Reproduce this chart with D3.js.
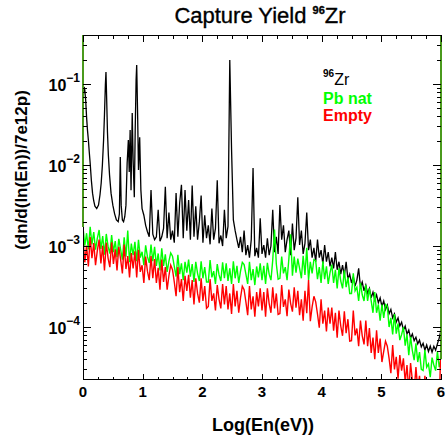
<!DOCTYPE html>
<html><head><meta charset="utf-8">
<script src="https://cdn.jsdelivr.net/npm/d3@7/dist/d3.min.js"></script>
<style>body{margin:0;background:#fff}svg{display:block}</style>
</head><body>
<svg id="c" width="446" height="444"></svg>
<script>
// ---------- data ----------
const xTickValues = [0, 1, 2, 3, 4, 5, 6];
const yDecadeExps = [-4, -3, -2, -1];
const binStep = 0.03;
const logE = d3.range(0, 201).map(i => +(i * binStep).toFixed(2)); // bin centres, Log10(En/eV)

const pbNat = [
1.72e-3,1.01e-3,1.44e-3,0.91e-3,1.73e-3,1.05e-3,1.49e-3,0.90e-3,1.24e-3,1.58e-3,
0.92e-3,1.33e-3,0.78e-3,1.41e-3,0.99e-3,0.81e-3,1.37e-3,0.84e-3,1.15e-3,0.73e-3,
1.23e-3,0.91e-3,0.68e-3,1.28e-3,0.74e-3,1.55e-3,0.63e-3,1.07e-3,0.77e-3,1.13e-3,
0.65e-3,1.19e-3,0.72e-3,0.85e-3,0.58e-3,1.02e-3,0.74e-3,0.62e-3,1.04e-3,0.65e-3,
0.98e-3,0.57e-3,0.81e-3,0.50e-3,0.94e-3,0.57e-3,0.79e-3,0.48e-3,0.65e-3,0.82e-3,
0.75e-3,0.56e-3,0.42e-3,0.78e-3,0.45e-3,0.61e-3,0.38e-3,0.64e-3,0.47e-3,0.68e-3,
0.42e-3,0.60e-3,0.36e-3,0.64e-3,0.46e-3,0.37e-3,0.65e-3,0.40e-3,0.55e-3,0.36e-3,
0.36e-3,0.67e-3,0.41e-3,0.49e-3,0.34e-3,0.60e-3,0.44e-3,0.37e-3,0.63e-3,0.40e-3,
0.61e-3,0.37e-3,0.53e-3,0.34e-3,0.65e-3,0.40e-3,0.57e-3,0.35e-3,0.49e-3,0.63e-3,
0.59e-3,0.45e-3,0.34e-3,0.64e-3,0.38e-3,0.52e-3,0.33e-3,0.56e-3,0.41e-3,0.61e-3,
0.38e-3,0.57e-3,0.34e-3,0.62e-3,0.45e-3,0.38e-3,0.67e-3,1.60e-3,0.60e-3,0.39e-3,
0.40e-3,0.74e-3,0.46e-3,0.55e-3,0.38e-3,0.69e-3,1.40e-3,0.43e-3,0.74e-3,0.47e-3,
0.70e-3,0.53e-3,0.40e-3,0.76e-3,0.44e-3,0.95e-3,0.38e-3,0.64e-3,0.46e-3,0.68e-3,
0.66e-3,0.39e-3,0.55e-3,0.35e-3,0.65e-3,0.39e-3,0.56e-3,0.34e-3,0.47e-3,0.59e-3,
0.35e-3,0.51e-3,0.30e-3,0.53e-3,0.37e-3,0.30e-3,0.50e-3,0.31e-3,0.41e-3,0.26e-3,
0.26e-3,0.46e-3,0.28e-3,0.31e-3,0.21e-3,0.35e-3,0.25e-3,0.21e-3,0.33e-3,0.21e-3,
0.30e-3,0.21e-3,0.15e-3,0.27e-3,0.15e-3,0.19e-3,0.12e-3,0.19e-3,0.13e-3,0.19e-3,
0.18e-3,0.10e-3,0.13e-3,0.081e-3,0.145e-3,0.083e-3,0.11e-3,0.069e-3,0.081e-3,0.10e-3,
0.059e-3,0.081e-3,0.045e-3,0.076e-3,0.051e-3,0.039e-3,0.063e-3,0.037e-3,0.049e-3,0.030e-3,
0.029e-3,0.052e-3,0.032e-3,0.035e-3,0.024e-3,0.042e-3,0.034e-3,0.029e-3,0.050e-3,0.032e-3,
0.040e-3];

const empty = [
1.25e-3,0.63e-3,1.01e-3,0.56e-3,1.29e-3,0.71e-3,1.09e-3,0.58e-3,0.88e-3,1.20e-3,
0.61e-3,1.01e-3,0.50e-3,1.10e-3,0.71e-3,0.55e-3,1.11e-3,0.60e-3,0.91e-3,0.50e-3,
0.98e-3,0.69e-3,0.46e-3,1.04e-3,0.52e-3,0.75e-3,0.41e-3,0.82e-3,0.53e-3,0.86e-3,
0.41e-3,0.90e-3,0.48e-3,0.58e-3,0.35e-3,0.74e-3,0.49e-3,0.38e-3,0.75e-3,0.40e-3,
0.69e-3,0.35e-3,0.54e-3,0.29e-3,0.68e-3,0.36e-3,0.55e-3,0.29e-3,0.43e-3,0.58e-3,
0.51e-3,0.36e-3,0.24e-3,0.55e-3,0.27e-3,0.39e-3,0.21e-3,0.43e-3,0.28e-3,0.44e-3,
0.23e-3,0.38e-3,0.19e-3,0.40e-3,0.26e-3,0.20e-3,0.40e-3,0.21e-3,0.32e-3,0.17e-3,
0.18e-3,0.39e-3,0.21e-3,0.26e-3,0.16e-3,0.33e-3,0.22e-3,0.17e-3,0.34e-3,0.19e-3,
0.32e-3,0.165e-3,0.26e-3,0.145e-3,0.34e-3,0.18e-3,0.28e-3,0.15e-3,0.23e-3,0.32e-3,
0.29e-3,0.205e-3,0.14e-3,0.32e-3,0.165e-3,0.24e-3,0.134e-3,0.27e-3,0.18e-3,0.30e-3,
0.16e-3,0.27e-3,0.134e-3,0.30e-3,0.195e-3,0.15e-3,0.31e-3,0.17e-3,0.26e-3,0.143e-3,
0.147e-3,0.33e-3,0.177e-3,0.22e-3,0.136e-3,0.29e-3,0.195e-3,0.155e-3,0.31e-3,0.173e-3,
0.28e-3,0.14e-3,0.22e-3,0.12e-3,0.28e-3,0.148e-3,0.38e-3,0.118e-3,0.177e-3,0.24e-3,
0.205e-3,0.145e-3,0.098e-3,0.22e-3,0.11e-3,0.16e-3,0.088e-3,0.174e-3,0.11e-3,0.174e-3,
0.09e-3,0.15e-3,0.074e-3,0.16e-3,0.103e-3,0.078e-3,0.156e-3,0.084e-3,0.125e-3,0.067e-3,
0.068e-3,0.16e-3,0.079e-3,0.096e-3,0.058e-3,0.12e-3,0.078e-3,0.061e-3,0.12e-3,0.058e-3,
0.097e-3,0.048e-3,0.074e-3,0.040e-3,0.091e-3,0.048e-3,0.072e-3,0.037e-3,0.050e-3,0.067e-3,
0.058e-3,0.041e-3,0.027e-3,0.060e-3,0.030e-3,0.043e-3,0.023e-3,0.045e-3,0.029e-3,0.041e-3,
0.021e-3,0.034e-3,0.016e-3,0.036e-3,0.022e-3,0.016e-3,0.032e-3,0.017e-3,0.025e-3,0.013e-3,
0.012e-3,0.025e-3,0.013e-3,0.016e-3,0.0095e-3,0.020e-3,0.013e-3,0.010e-3,0.021e-3,0.011e-3,
0.066e-3];

// 96Zr: finely sampled resonance region below Log(En)=1 ...
const zrLowLogE = [0.000,0.010,0.020,0.030,0.045,0.060,0.075,0.090,0.105,0.120,0.140,0.160,0.180,0.200,0.230,0.260,0.285,0.305,0.325,0.345,0.360,0.375,0.385,0.395,0.410,0.425,0.445,0.470,0.500,0.530,0.560,0.590,0.610,0.625,0.640,0.660,0.680,0.700,0.720,0.740,0.760,0.775,0.790,0.805,0.825,0.840,0.860,0.875,0.890,0.900,0.915,0.930,0.950,0.970,0.990];
const zrLowYield = [0.063,0.080,0.092,0.085,0.063,0.039,0.027,0.0204,0.0145,0.0106,0.0065,0.0045,0.0036,0.0031,0.0029,0.0032,0.0043,0.0060,0.0100,0.0204,0.042,0.097,0.141,0.073,0.0255,0.0133,0.0075,0.0045,0.0032,0.0025,0.0021,0.0020,0.0025,0.0126,0.0032,0.0021,0.0020,0.0023,0.0032,0.0106,0.0204,0.0082,0.027,0.0049,0.044,0.0115,0.0040,0.027,0.112,0.172,0.044,0.0087,0.022,0.0049,0.0029];
// ... and on the common bin grid from Log(En)=1.02 to 6
const zrHighYield = [
2.4e-3,1.8e-3,1.5e-3,1.3e-3,4.9e-3,1.4e-3,
1.2e-3,1.3e-3,2.8e-3,1.15e-3,1.3e-3,1.65e-3,5.4e-3,1.25e-3,2.6e-3,1.2e-3,
1.55e-3,1.1e-3,4.5e-3,1.3e-3,3.4e-3,5.7e-3,1.25e-3,4.9e-3,1.55e-3,3.7e-3,
1.2e-3,5.6e-3,1.3e-3,3.1e-3,1.2e-3,2.0e-3,4.2e-3,1.1e-3,2.4e-3,1.25e-3,
1.8e-3,1.05e-3,2.9e-3,1.2e-3,1.65e-3,6.5e-3,1.08e-3,1.35e-3,1.0e-3,2.8e-3,
1.25e-3,1.75e-3,198e-3,15.3e-3,2.1e-3,1.55e-3,1.2e-3,0.95e-3,1.3e-3,0.84e-3,
1.55e-3,0.77e-3,1.03e-3,0.72e-3,1.2e-3,9.2e-3,0.75e-3,0.95e-3,0.72e-3,2.2e-3,
0.8e-3,1.03e-3,0.72e-3,1.25e-3,0.77e-3,1.0e-3,2.8e-3,0.84e-3,1.3e-3,0.8e-3,
3.2e-3,1.2e-3,1.8e-3,0.84e-3,1.2e-3,1.55e-3,0.77e-3,1.9e-3,0.89e-3,1.25e-3,
4.0e-3,1.03e-3,1.55e-3,0.8e-3,1.08e-3,2.6e-3,0.89e-3,1.2e-3,0.72e-3,0.95e-3,
0.64e-3,1.2e-3,0.72e-3,0.89e-3,0.60e-3,1.03e-3,0.64e-3,0.84e-3,0.56e-3,0.72e-3,
0.53e-3,0.84e-3,0.51e-3,0.64e-3,0.45e-3,0.58e-3,0.43e-3,0.64e-3,0.39e-3,0.45e-3,
0.35e-3,0.42e-3,0.32e-3,0.38e-3,0.53e-3,0.31e-3,0.36e-3,0.28e-3,0.33e-3,0.26e-3,
0.30e-3,0.23e-3,0.27e-3,0.216e-3,0.25e-3,0.20e-3,0.23e-3,0.18e-3,0.21e-3,0.165e-3,
0.187e-3,0.146e-3,0.165e-3,0.13e-3,0.146e-3,0.115e-3,0.13e-3,0.103e-3,0.115e-3,0.092e-3,
0.103e-3,0.082e-3,0.092e-3,0.073e-3,0.082e-3,0.068e-3,0.075e-3,0.062e-3,0.069e-3,0.057e-3,
0.063e-3,0.052e-3,0.060e-3,0.050e-3,0.058e-3,0.049e-3,0.058e-3,0.052e-3,0.062e-3,0.073e-3,
0.092e-3];

const legendLabels = ["Zr", "Pb nat", "Empty"];
const seriesColors = ["#000000", "#00ff00", "#ff0000"];

// ---------- chart ----------
const svg = d3.select("#c");
const font = "'Liberation Sans', Arial, Helvetica, sans-serif";
const frame = {left: 83, right: 441, top: 35, bottom: 380};

const x = d3.scaleLinear().domain([0, 6]).range([frame.left, frame.right]);
const y = d3.scaleLog().domain([2.22e-5, 0.403]).range([frame.bottom, frame.top]);

svg.append("defs").append("clipPath").attr("id", "clip")
  .append("rect").attr("x", frame.left).attr("y", frame.top)
  .attr("width", frame.right - frame.left).attr("height", frame.bottom - frame.top);

const zrLogE = zrLowLogE.concat(logE.filter(e => e > 1.0));
const zrYield = zrLowYield.concat(zrHighYield);
const toPts = (xs, ys) => xs.map((e, i) => [e, ys[i]]);

const line = d3.line().x(d => x(d[0])).y(d => y(d[1]));
const plot = svg.append("g").attr("clip-path", "url(#clip)");

plot.append("path").datum(toPts(zrLogE, zrYield))
  .attr("d", line).attr("fill", "none").attr("stroke", seriesColors[0]).attr("stroke-width", 1.3);
plot.append("path").datum(toPts(logE, pbNat))
  .attr("d", line).attr("fill", "none").attr("stroke", seriesColors[1]).attr("stroke-width", 1.4);
plot.append("path").datum(toPts(logE, empty))
  .attr("d", line).attr("fill", "none").attr("stroke", seriesColors[2]).attr("stroke-width", 1.4);

// green histogram edges reaching the top of the frame
const yTop = y.domain()[1];
const edgeSegs = [
  [[logE[0], yTop], [logE[0], pbNat[0]]],
  [[logE[logE.length - 1], pbNat[pbNat.length - 1]], [logE[logE.length - 1], yTop]]
];
svg.selectAll(".edge").data(edgeSegs).join("path").attr("class", "edge")
  .attr("d", line).attr("stroke", "#4a9a1c").attr("stroke-width", 2).attr("fill", "none");

// frame top / bottom
const ax = svg.append("g").attr("stroke", "#000").attr("stroke-width", 1);
ax.append("line").attr("x1", frame.left).attr("x2", frame.right).attr("y1", frame.top + 0.5).attr("y2", frame.top + 0.5);
ax.append("line").attr("x1", frame.left).attr("x2", frame.right).attr("y1", frame.bottom - 0.5).attr("y2", frame.bottom - 0.5);
ax.append("line").attr("x1", frame.left + 0.5).attr("x2", frame.left + 0.5).attr("y1", y(pbNat[0])).attr("y2", frame.bottom);

// x ticks
const xMinor = d3.range(0, 24.5).map(i => i * 0.25).filter(v => !xTickValues.includes(v));
const xt = svg.append("g").attr("stroke", "#000").attr("stroke-width", 1);
xTickValues.forEach(v => {
  const px = Math.round(x(v)) + 0.5;
  xt.append("line").attr("x1", px).attr("x2", px).attr("y1", frame.bottom).attr("y2", frame.bottom - 6);
  xt.append("line").attr("x1", px).attr("x2", px).attr("y1", frame.top).attr("y2", frame.top + 7);
});
xMinor.forEach(v => {
  const px = Math.round(x(v)) + 0.5;
  xt.append("line").attr("x1", px).attr("x2", px).attr("y1", frame.bottom).attr("y2", frame.bottom - 3);
  xt.append("line").attr("x1", px).attr("x2", px).attr("y1", frame.top).attr("y2", frame.top + 4);
});
svg.append("g").selectAll("text").data(xTickValues).join("text")
  .attr("x", d => x(d)).attr("y", 397).attr("text-anchor", "middle")
  .attr("font-family", font).attr("font-weight", "bold").attr("font-size", 15)
  .text(d => d);

// y ticks
const yMinor = [];
[-5, -4, -3, -2, -1].forEach(p => d3.range(2, 10).forEach(k => {
  const v = k * Math.pow(10, p);
  if (v > y.domain()[0] && v < y.domain()[1]) yMinor.push(v);
}));
const yt = svg.append("g").attr("stroke", "#000").attr("stroke-width", 1);
yDecadeExps.forEach(p => {
  const py = Math.round(y(Math.pow(10, p))) + 0.5;
  yt.append("line").attr("x1", frame.left).attr("x2", frame.left + 8).attr("y1", py).attr("y2", py);
  yt.append("line").attr("x1", frame.right).attr("x2", frame.right - 8).attr("y1", py).attr("y2", py);
});
yMinor.forEach(v => {
  const py = Math.round(y(v)) + 0.5;
  yt.append("line").attr("x1", frame.left).attr("x2", frame.left + 4).attr("y1", py).attr("y2", py);
  yt.append("line").attr("x1", frame.right).attr("x2", frame.right - 4).attr("y1", py).attr("y2", py);
});
const ylab = svg.append("g").selectAll("text").data(yDecadeExps).join("text")
  .attr("x", 80).attr("y", d => y(Math.pow(10, d)) + 7).attr("text-anchor", "end")
  .attr("font-family", font).attr("font-weight", "bold").attr("font-size", 16);
ylab.append("tspan").text("10");
ylab.append("tspan").attr("dy", -9).attr("font-size", 12).text(d => "\u2212" + (-d));

// axis titles
svg.append("text").attr("x", 263).attr("y", 431).attr("text-anchor", "middle")
  .attr("font-family", font).attr("font-weight", "bold").attr("font-size", 18)
  .text("Log(En(eV))");
svg.append("text").attr("transform", "translate(27,170) rotate(-90)").attr("text-anchor", "middle")
  .attr("font-family", font).attr("font-weight", "bold").attr("font-size", 17)
  .text("(dn/d(ln(En))/7e12p)");

// title
const title = svg.append("text").attr("x", 260).attr("y", 23).attr("text-anchor", "middle")
  .attr("font-family", font).attr("font-size", 22).attr("stroke", "#000").attr("stroke-width", 0.35);
title.append("tspan").text("Capture Yield ");
title.append("tspan").attr("dy", -9).attr("font-size", 11).attr("font-weight", "bold").text("96");
title.append("tspan").attr("dy", 9).text("Zr");

// legend
const lg = svg.append("g").attr("font-family", font).attr("font-weight", "bold").attr("font-size", 16);
const l0 = lg.append("text").attr("x", 323).attr("y", 85).attr("fill", seriesColors[0]);
l0.append("tspan").attr("dy", -8).attr("font-size", 10).text("96");
l0.append("tspan").attr("dy", 8).attr("font-weight", "normal").text(legendLabels[0]);
lg.append("text").attr("x", 323).attr("y", 104).attr("fill", seriesColors[1]).text(legendLabels[1]);
lg.append("text").attr("x", 323).attr("y", 121).attr("fill", seriesColors[2]).text(legendLabels[2]);
</script>
</body></html>
